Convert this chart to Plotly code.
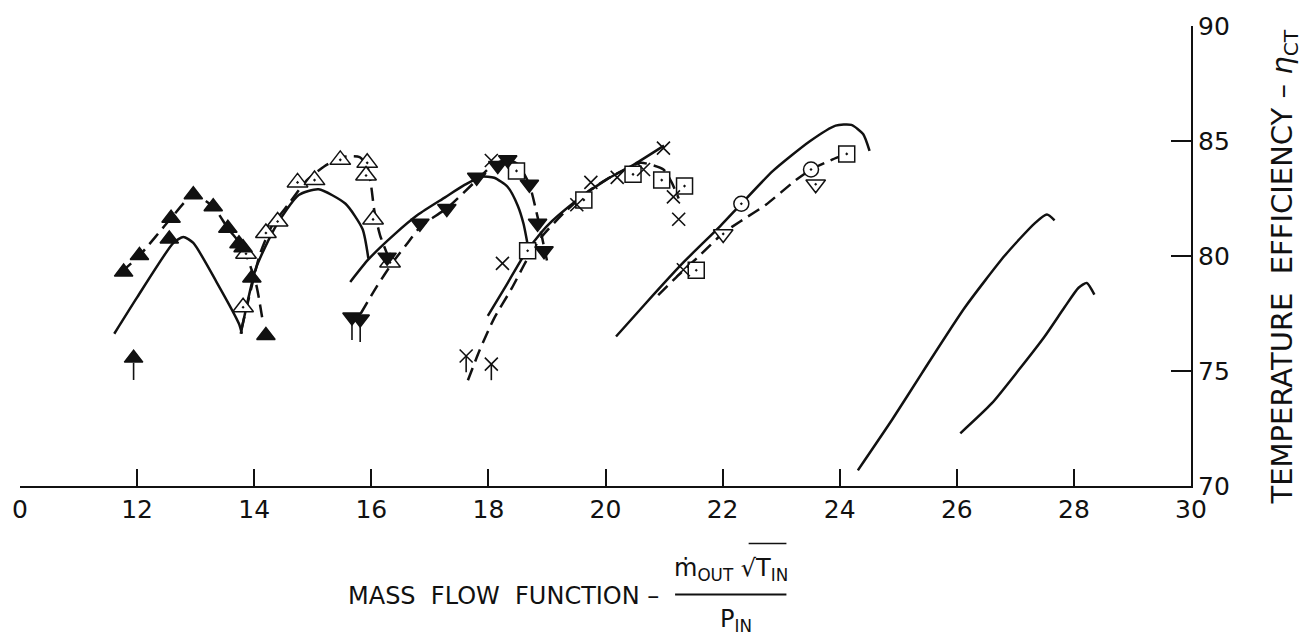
import plotly.graph_objects as go

# ---- faired curves (mass flow function, efficiency) ----
solid_a_x = [11.61, 12.0, 12.62, 12.79, 12.96, 13.35, 13.74, 13.79]
solid_a_y = [76.62, 78.2, 80.57, 80.83, 80.57, 78.9, 77.05, 76.62]
dash_a_x = [11.73, 12.04, 12.58, 12.96, 13.3, 13.55, 13.81, 14.03, 14.15]
dash_a_y = [79.3, 80.02, 81.64, 82.66, 82.14, 81.21, 80.36, 78.8, 77.1]

solid_b_x = [13.77, 14.03, 14.37, 14.76, 15.1, 15.56, 15.85, 15.95]
solid_b_y = [76.62, 79.47, 81.3, 82.65, 82.9, 82.27, 81.17, 79.89]
dash_b_x = [13.78, 13.95, 14.1, 14.3, 14.6, 14.9, 15.2, 15.5, 15.8, 15.93, 16.0, 16.05, 16.15, 16.35]
dash_b_y = [76.8, 78.6, 80.1, 81.3, 82.3, 83.3, 83.9, 84.3, 84.3, 83.9, 83.0, 82.0, 80.9, 79.6]

solid_c_x = [15.64, 15.95, 16.4, 16.8, 17.26, 17.6, 17.88, 18.1, 18.33, 18.5, 18.6, 18.67]
solid_c_y = [78.87, 79.85, 80.95, 81.8, 82.55, 83.1, 83.45, 83.4, 83.0, 82.2, 81.4, 80.5]
dash_c_x = [15.82, 16.1, 16.36, 16.6, 16.85, 17.3, 17.8, 18.05, 18.3, 18.5, 18.7, 18.84, 18.95, 19.0]
dash_c_y = [77.5, 78.7, 79.7, 80.5, 81.3, 82.1, 83.3, 83.9, 84.2, 84.0, 83.1, 81.7, 80.4, 79.8]

solid_d_x = [17.99, 18.3, 18.65, 19.0, 19.5, 20.0, 20.5, 21.0]
solid_d_y = [77.4, 78.7, 80.2, 81.3, 82.4, 83.3, 84.0, 84.8]
dash_d_x = [17.65, 17.85, 18.1, 18.4, 18.65, 18.9, 19.3, 19.7, 20.1, 20.6, 20.99, 21.13, 21.25]
dash_d_y = [74.6, 75.9, 77.3, 78.6, 79.8, 80.8, 81.9, 82.8, 83.45, 84.05, 83.76, 83.2, 82.5]

solid_e_x = [20.18, 20.7, 21.33, 21.96, 22.32, 22.86, 23.49, 23.93, 24.2, 24.4, 24.51]
solid_e_y = [76.5, 77.98, 79.72, 81.3, 82.27, 83.7, 84.99, 85.67, 85.7, 85.3, 84.57]
dash_e_x = [20.9, 21.3, 21.6, 22.01, 22.3, 22.74, 23.25, 23.51, 23.88, 24.12]
dash_e_y = [78.3, 79.3, 80.0, 81.0, 81.5, 82.23, 83.3, 83.76, 84.2, 84.44]

solid_f_x = [24.31, 24.9, 25.41, 26.14, 26.82, 27.33, 27.54, 27.67]
solid_f_y = [70.68, 72.9, 74.93, 77.77, 80.02, 81.42, 81.8, 81.55]
solid_g_x = [26.06, 26.6, 27.06, 27.5, 27.84, 28.08, 28.22, 28.35]
solid_g_y = [72.29, 73.6, 75.05, 76.5, 77.77, 78.62, 78.83, 78.32]

# ---- test points ----
tri_up_fill_x = [11.77, 12.04, 12.55, 12.58, 12.96, 13.3, 13.55, 13.74, 13.81, 13.96, 14.2]
tri_up_fill_y = [79.3, 80.02, 80.74, 81.64, 82.66, 82.14, 81.21, 80.53, 80.36, 79.04, 76.54]
tri_up_fill_flag_x = [11.94]
tri_up_fill_flag_y = [75.56]

tri_up_open_x = [13.81, 13.86, 14.2, 14.4, 14.74, 15.03, 15.47, 15.93, 15.91, 16.03, 16.32]
tri_up_open_y = [77.77, 80.1, 81.0, 81.5, 83.2, 83.3, 84.18, 84.05, 83.5, 81.59, 79.72]

tri_dn_fill_x = [16.27, 16.83, 17.29, 17.8, 18.16, 18.33, 18.7, 18.84, 18.95]
tri_dn_fill_y = [79.95, 81.42, 82.06, 83.42, 83.93, 84.18, 83.12, 81.42, 80.23]
tri_dn_fill_flag_x = [15.67, 15.81]
tri_dn_fill_flag_y = [77.35, 77.26]

cross_x = [18.05, 18.24, 19.51, 19.75, 20.2, 20.65, 20.99, 21.16, 21.25, 21.33]
cross_y = [84.15, 79.68, 82.23, 83.2, 83.42, 83.76, 84.69, 82.57, 81.6, 79.4]
cross_flag_x = [17.62, 18.05]
cross_flag_y = [75.65, 75.3]

square_x = [18.48, 18.67, 19.63, 20.47, 20.96, 21.35, 21.55, 24.12]
square_y = [83.7, 80.23, 82.44, 83.55, 83.3, 83.04, 79.38, 84.44]

circle_x = [22.32, 23.51]
circle_y = [82.27, 83.76]

tri_dn_open_x = [22.01, 23.59]
tri_dn_open_y = [80.96, 83.12]

# ---- axis ticks ----
x_tickvals = [10, 12, 14, 16, 18, 20, 22, 24, 26, 28, 30]
x_ticktext = ["0", "12", "14", "16", "18", "20", "22", "24", "26", "28", "30"]
y_tickvals = [70, 75, 80, 85, 90]

INK = "#111111"
FONT = "DejaVu Sans, Liberation Sans, sans-serif"

fig = go.Figure()


def curve(xs, ys, dashed):
    fig.add_trace(go.Scatter(
        x=xs, y=ys, mode="lines",
        line=dict(color=INK, width=2.5, shape="spline", smoothing=0.6,
                  dash="13px,7px" if dashed else "solid"),
        hoverinfo="skip", showlegend=False))


for xs, ys in [(solid_a_x, solid_a_y), (solid_b_x, solid_b_y), (solid_c_x, solid_c_y),
               (solid_d_x, solid_d_y), (solid_e_x, solid_e_y), (solid_f_x, solid_f_y),
               (solid_g_x, solid_g_y)]:
    curve(xs, ys, False)
for xs, ys in [(dash_a_x, dash_a_y), (dash_b_x, dash_b_y), (dash_c_x, dash_c_y),
               (dash_d_x, dash_d_y), (dash_e_x, dash_e_y)]:
    curve(xs, ys, True)


def tails(xs, ys, top, bottom):
    tx, ty = [], []
    for x, y in zip(xs, ys):
        tx += [x, x, None]
        ty += [y - top, y - bottom, None]
    fig.add_trace(go.Scatter(x=tx, y=ty, mode="lines",
                             line=dict(color=INK, width=1.6),
                             hoverinfo="skip", showlegend=False))


tails(tri_up_fill_flag_x, tri_up_fill_flag_y, 0.2, 0.95)
tails(tri_dn_fill_flag_x, tri_dn_fill_flag_y, 0.2, 1.0)
tails(cross_flag_x, cross_flag_y, 0.0, 0.7)


def points(xs, ys, symbol, size, fill):
    fig.add_trace(go.Scatter(
        x=xs, y=ys, mode="markers",
        marker=dict(symbol=symbol, size=size, color=fill,
                    line=dict(color=INK, width=1.5)),
        hoverinfo="skip", showlegend=False))


points(tri_up_open_x, tri_up_open_y, "triangle-up-dot", 18, "white")
points(square_x, square_y, "square-dot", 16, "white")
points(circle_x, circle_y, "circle-dot", 15, "white")
points(tri_dn_open_x, tri_dn_open_y, "triangle-down-dot", 17, "white")
points(tri_up_fill_x + tri_up_fill_flag_x, tri_up_fill_y + tri_up_fill_flag_y,
       "triangle-up", 16, INK)
points(tri_dn_fill_x + tri_dn_fill_flag_x, tri_dn_fill_y + tri_dn_fill_flag_y,
       "triangle-down", 16, INK)
fig.add_trace(go.Scatter(
    x=cross_x + cross_flag_x, y=cross_y + cross_flag_y, mode="markers",
    marker=dict(symbol="x-thin", size=13, line=dict(color=INK, width=1.6)),
    hoverinfo="skip", showlegend=False))

fig.update_layout(
    width=1315, height=643,
    margin=dict(l=13, r=124, t=15, b=157),
    paper_bgcolor="white", plot_bgcolor="white",
    font=dict(family=FONT, color=INK),
    showlegend=False,
    xaxis=dict(range=[10, 30], tickvals=x_tickvals, ticktext=x_ticktext,
               ticks="inside", ticklen=17, tickwidth=1.5, tickcolor=INK,
               showline=True, linecolor=INK, linewidth=2,
               showgrid=False, zeroline=False,
               tickfont=dict(size=25, family=FONT, color=INK)),
    yaxis=dict(range=[70, 90], tickvals=y_tickvals, side="right",
               ticks="inside", ticklen=20, tickwidth=1.5, tickcolor=INK,
               showline=True, linecolor=INK, linewidth=2,
               showgrid=False, zeroline=False,
               tickfont=dict(size=25, family=FONT, color=INK)),
)

# axis titles
NBSP = "\u00a0"
fig.add_annotation(
    text="TEMPERATURE" + NBSP * 2 + "EFFICIENCY" + NBSP + "–" + NBSP + "<i>η</i><sub>CT</sub>",
    xref="paper", yref="paper", x=1.0798, y=0.476, textangle=-90,
    xanchor="center", yanchor="middle", showarrow=False,
    font=dict(size=29, family=FONT, color=INK))

fig.add_annotation(
    text="MASS" + NBSP * 2 + "FLOW" + NBSP * 2 + "FUNCTION" + NBSP + "–",
    xref="paper", yref="paper", x=(658 - 13) / 1178, y=(486 - 599) / 471,
    xanchor="right", yanchor="middle", showarrow=False,
    font=dict(size=24, family=FONT, color=INK))
fig.add_annotation(
    text="ṁ<sub>OUT</sub>" + NBSP + "√T<sub>IN</sub>",
    xref="paper", yref="paper", x=(728 - 13) / 1178, y=(486 - 572) / 471,
    xanchor="center", yanchor="middle", showarrow=False,
    font=dict(size=24, family=FONT, color=INK))
fig.add_annotation(
    text="P<sub>IN</sub>",
    xref="paper", yref="paper", x=(733 - 13) / 1178, y=(486 - 624) / 471,
    xanchor="center", yanchor="middle", showarrow=False,
    font=dict(size=24, family=FONT, color=INK))
# fraction bar
fig.add_shape(type="line", xref="paper", yref="paper",
              x0=(672 - 13) / 1178, x1=(784 - 13) / 1178,
              y0=(486 - 597) / 471, y1=(486 - 597) / 471,
              line=dict(color=INK, width=2))
# radical vinculum
fig.add_shape(type="line", xref="paper", yref="paper",
              x0=(746 - 13) / 1178, x1=(784 - 13) / 1178,
              y0=(486 - 545) / 471, y1=(486 - 545) / 471,
              line=dict(color=INK, width=1.5))

fig.write_html("out.html")
